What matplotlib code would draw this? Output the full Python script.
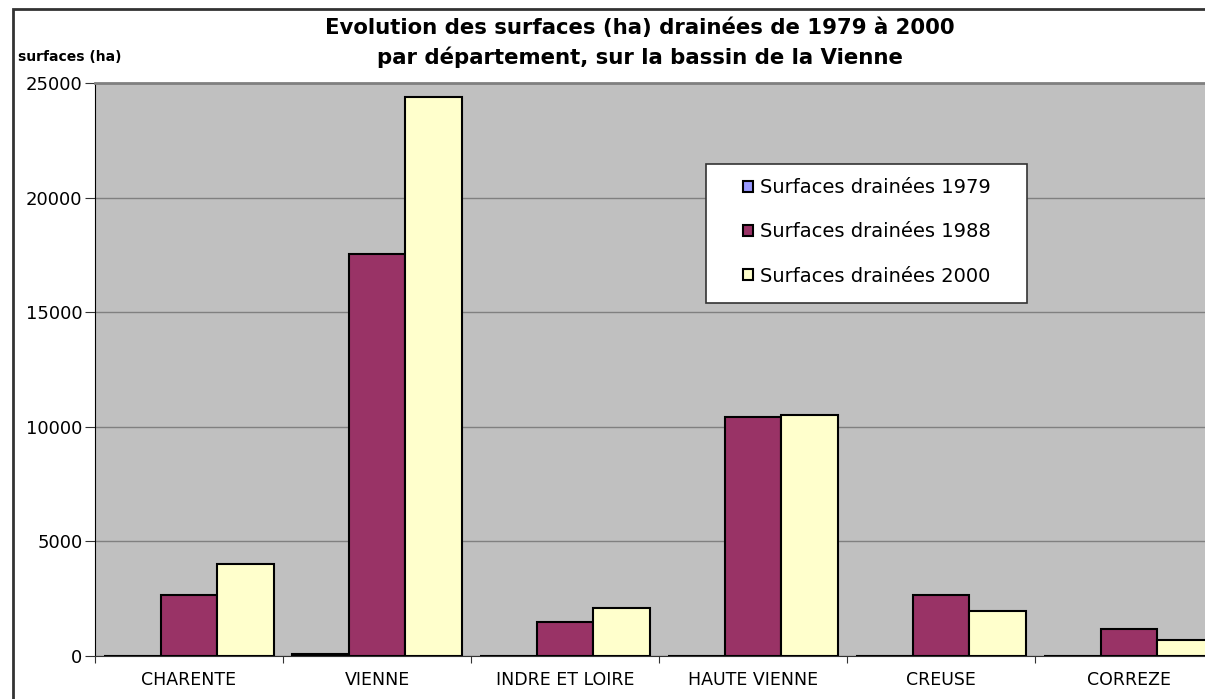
import matplotlib.pyplot as plt
import matplotlib.patches as mpatches
import numpy as np

departements = ["CHARENTE", "VIENNE", "INDRE ET LOIRE", "HAUTE VIENNE", "CREUSE", "CORREZE"]
surf_1979 = [0, 80, 0, 0, 0, 0]
surf_1988 = [2650, 17540, 1480, 10430, 2650, 1180]
surf_2000 = [4010, 24390, 2090, 10510, 1960, 700]
series_labels = ["Surfaces drainées 1979", "Surfaces drainées 1988", "Surfaces drainées 2000"]
colors = ["#9999FF", "#993366", "#FFFFCC"]

plt.rcParams['font.family'] = ['DejaVu Sans']

fig = plt.figure(figsize=(12.05, 6.99), dpi=100)
W, H = 1205, 699

# outer chart border (runs off the right and bottom edges)
border = mpatches.Rectangle((13 / W, -0.1), 1.2, 1 - 9 / H + 0.1, transform=fig.transFigure,
                            fill=False, edgecolor="#333333", linewidth=2)
fig.patches.append(border)

ax = fig.add_axes([95 / W, 1 - 656 / H, (1223 - 95) / W, (656 - 83) / H])
ax.set_facecolor("#C0C0C0")

x = np.arange(len(departements))
bw = 0.303
for i, vals in enumerate([surf_1979, surf_1988, surf_2000]):
    ax.bar(x + (i - 1) * bw, vals, width=bw, color=colors[i], edgecolor="black",
           linewidth=1.5, label=series_labels[i], zorder=3)

ax.set_xlim(-0.5, len(departements) - 0.5)
ax.set_ylim(0, 25000)
ax.set_yticks(range(0, 25001, 5000))
ax.yaxis.grid(True, color="#808080", linewidth=1, zorder=0)
ax.set_axisbelow(True)

ax.set_xticks(np.arange(len(departements) + 1) - 0.5)
ax.set_xticklabels([])
ax.set_xticks(x, minor=True)
ax.set_xticklabels(departements, minor=True, fontsize=12.5)
ax.tick_params(axis="x", which="minor", length=0, pad=11)
ax.tick_params(axis="x", which="major", length=5, direction="out", color="#333333")
ax.tick_params(axis="y", length=7, direction="out", labelsize=13, pad=2, color="#333333")

ax.spines["right"].set_visible(False)
ax.spines["top"].set_color("#808080")
ax.spines["top"].set_linewidth(2)
ax.spines["left"].set_color("black")
ax.spines["bottom"].set_color("#333333")

fig.text(640 / W, 1 - 28 / H, "Evolution des surfaces (ha) drainées de 1979 à 2000",
         ha="center", va="center", fontsize=15.3, fontweight="bold")
fig.text(640 / W, 1 - 57 / H, "par département, sur la bassin de la Vienne",
         ha="center", va="center", fontsize=15.3, fontweight="bold")
fig.text(18 / W, 1 - 57 / H, "surfaces (ha)", ha="left", va="center",
         fontsize=10, fontweight="bold")

# legend box drawn separately so the padding can be uneven
legend_box = mpatches.Rectangle((706 / W, 1 - 303 / H), (1027 - 706) / W, (303 - 164) / H,
                                transform=fig.transFigure, facecolor="white",
                                edgecolor="#333333", linewidth=1.2, zorder=4)
fig.patches.append(legend_box)

leg = fig.legend(loc="upper left", bbox_to_anchor=(743 / W, 1 - 178 / H),
                 fontsize=14, frameon=False,
                 handlelength=0.5, handleheight=0.5, labelspacing=1.3, borderpad=0,
                 handletextpad=0.35, borderaxespad=0)
leg.set_zorder(5)

fig.savefig("out.png", dpi=100)
